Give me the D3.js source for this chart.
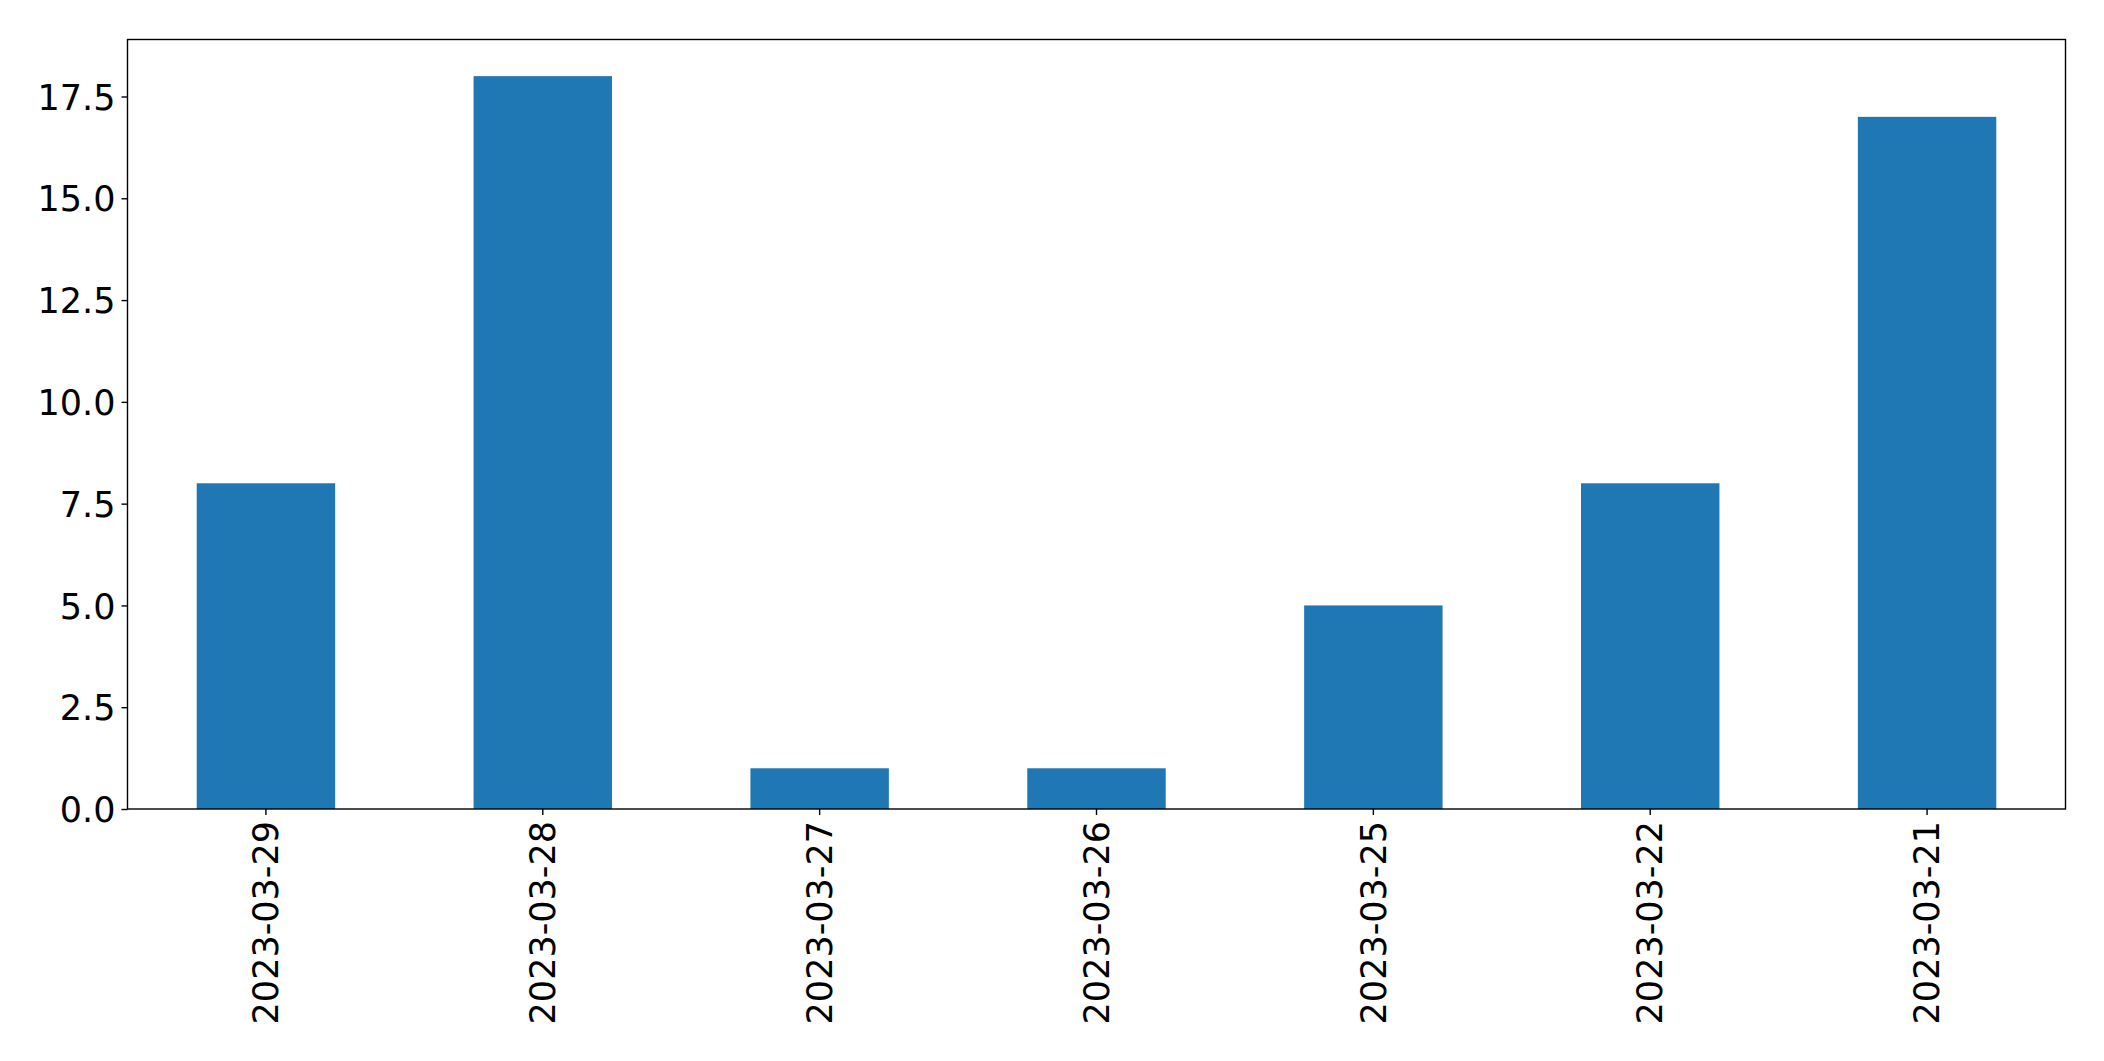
<!DOCTYPE html>
<html lang="en">
<head>
  <meta charset='utf-8'>
  <title>Daily counts</title>

  <style>
    body { margin: 0; background: #fff; }
    svg { display: block; background-color: #fff; }
    .tick text { font-family: "DejaVu Sans", sans-serif; font-size: 35px; fill: #000; }
    .tick line { stroke: #000; stroke-width: 1.4; }
    .domain { display: none; }
  </style>
</head>

<body>
  <div id="d3_barPlot"></div>
</body>

<script src="https://cdn.jsdelivr.net/npm/d3@7"></script>

<script>

  ////////////////////////////////////////////////// DATA

  var dates  = ["2023-03-29", "2023-03-28", "2023-03-27", "2023-03-26", "2023-03-25", "2023-03-22", "2023-03-21"];
  var counts = [8, 18, 1, 1, 5, 8, 17];
  var yTicks = [0, 2.5, 5, 7.5, 10, 12.5, 15, 17.5];

  ////////////////////////////////////////////////// INIT VARS

  var width = 2104;
  var height = 1061;
  var margin = {top: 39.5, right: 38.5, bottom: 252, left: 127.5};

  var plotWidth = width - margin.left - margin.right;
  var plotHeight = height - margin.top - margin.bottom;

  var tickLen = 6;
  var tickPad = 6;

  ////////////////////////////////////////////////// SETUP

  var svg = d3.select("#d3_barPlot").append("svg")
            .attr("width", width)
            .attr("height", height)
            .append("g")
            .attr("transform", "translate(" + margin.left + "," + margin.top + ")");

  // x scale: one band per date, bars take half of it (like pandas bar plot)
  var xAxis = d3.scaleBand()
    .domain(dates)
    .range([0, plotWidth])
    .paddingInner(0.5)
    .paddingOuter(0.25);

  // y scale with 5% headroom over the max value
  var yAxis = d3.scaleLinear()
    .domain([0, d3.max(counts) * 1.05])
    .range([plotHeight, 0]);

  // bars
  svg.selectAll("rect.bar")
    .data(counts)
    .enter()
    .append("rect")
    .attr("class", "bar")
    .attr("x", function(d, i) { return xAxis(dates[i]); })
    .attr("y", function(d) { return yAxis(d); })
    .attr("width", xAxis.bandwidth())
    .attr("height", function(d) { return plotHeight - yAxis(d); })
    .attr("fill", "#1f77b4");

  // x axis with vertical labels
  var xg = svg.append("g")
    .attr("transform", "translate(0," + plotHeight + ")")
    .call(d3.axisBottom(xAxis).tickSize(tickLen).tickSizeOuter(0));

  xg.selectAll("text")
    .attr("transform", "rotate(-90)")
    .attr("x", -(tickLen + tickPad))
    .attr("y", 0)
    .attr("dy", "0.35em")
    .style("text-anchor", "end");

  // y axis
  var yg = svg.append("g")
    .call(d3.axisLeft(yAxis).tickValues(yTicks).tickFormat(d3.format(".1f")).tickSize(tickLen).tickPadding(tickPad).tickSizeOuter(0));

  yg.selectAll("text").attr("dy", "0.36em");

  // frame around the plot
  svg.append("rect")
    .attr("x", 0)
    .attr("y", 0)
    .attr("width", plotWidth)
    .attr("height", plotHeight)
    .attr("fill", "none")
    .attr("stroke", "#000")
    .attr("stroke-width", 1.4);

</script>
</html>
